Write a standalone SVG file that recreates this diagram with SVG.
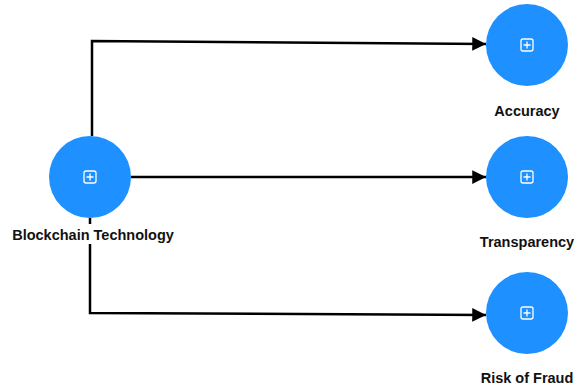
<svg xmlns="http://www.w3.org/2000/svg" width="575" height="386" viewBox="0 0 575 386">
<defs>
<style>
.node{fill:#1e90ff;}
.icon{fill:none;stroke:#fff;stroke-width:1.3;}
.lbl{font-family:"Liberation Sans",Arial,sans-serif;font-weight:bold;font-size:14.5px;fill:#111;text-anchor:middle;}
.edge{fill:none;stroke:#000;stroke-width:2.5;}
</style>
<marker id="arr" viewBox="0 0 10 10" refX="10" refY="5" markerWidth="5.5" markerHeight="5.5" orient="auto" markerUnits="strokeWidth">
<path d="M0,0 L10,5 L0,10 z" fill="#000"/>
</marker>
<g id="plus"><rect class="icon" x="-6" y="-6" width="12" height="12" rx="2"/><path class="icon" d="M0,-3.5 V3.5 M-3.5,0 H3.5"/></g>
</defs>
<g id="connectors">
<path class="edge" d="M92,136 V41 L486,44" marker-end="url(#arr)"/>
<path class="edge" d="M131,177 H486" marker-end="url(#arr)"/>
<path class="edge" d="M90,218 V313 L486,315" marker-end="url(#arr)"/>
</g>
<g id="blockchain">
<circle class="node" cx="90" cy="177" r="41"/>
<use href="#plus" x="90" y="177"/>
<rect x="5" y="224" width="175" height="20" fill="#fff"/>
<text class="lbl" x="93" y="240">Blockchain Technology</text>
</g>
<g id="accuracy">
<circle class="node" cx="527" cy="45" r="41"/>
<use href="#plus" x="527" y="45"/>
<text class="lbl" x="527" y="116">Accuracy</text>
</g>
<g id="transparency">
<circle class="node" cx="527" cy="177" r="41"/>
<use href="#plus" x="527" y="177"/>
<text class="lbl" x="527" y="247">Transparency</text>
</g>
<g id="risk">
<circle class="node" cx="527" cy="313" r="41"/>
<use href="#plus" x="527" y="313"/>
<text class="lbl" x="527" y="383">Risk of Fraud</text>
</g>
</svg>
